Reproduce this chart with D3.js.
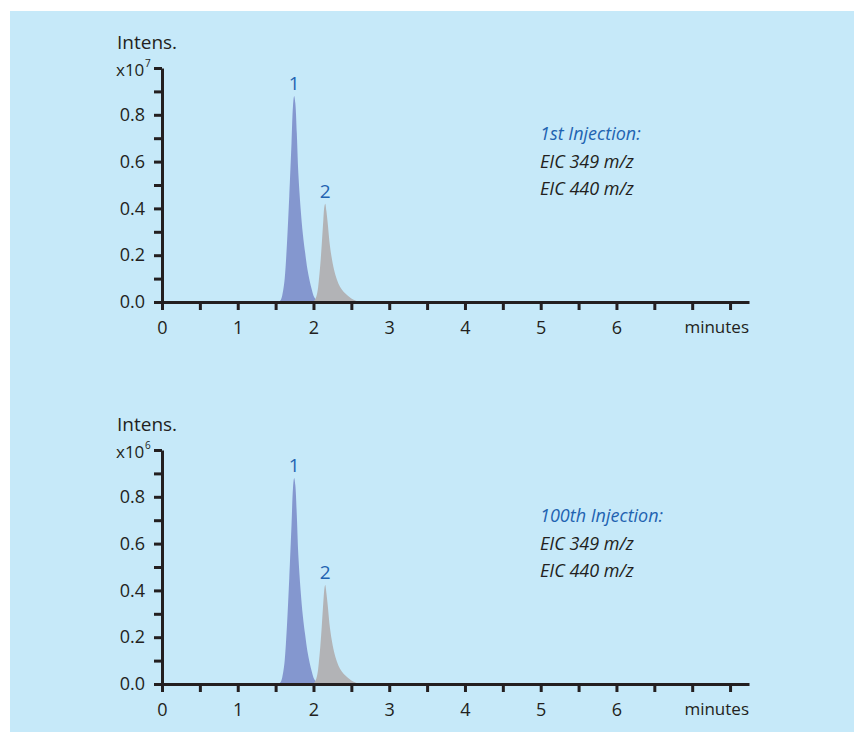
<!DOCTYPE html>
<html>
<head>
<meta charset="utf-8">
<script src="https://cdn.jsdelivr.net/npm/d3@7"></script>
<style>
  body { margin: 0; background: #fff; }
  svg text { font-family: "Open Sans", "Noto Sans", sans-serif; fill: #231f20; }
</style>
</head>
<body>
<div id="chart"></div>
<script>
// retention time (minutes) and intensity for the two peaks
const peak1Time = [1.54, 1.57, 1.60, 1.62, 1.65, 1.68, 1.71, 1.73, 1.745, 1.76, 1.78, 1.80, 1.83, 1.86, 1.89, 1.92, 1.95, 1.98, 2.01, 2.05, 2.08];
const peak1First = [0, 0.01, 0.05, 0.10, 0.25, 0.45, 0.68, 0.84, 0.88, 0.85, 0.72, 0.55, 0.40, 0.29, 0.21, 0.14, 0.09, 0.05, 0.02, 0.005, 0];
const peak1Hundredth = [0, 0.01, 0.05, 0.10, 0.25, 0.45, 0.68, 0.84, 0.88, 0.85, 0.72, 0.55, 0.40, 0.29, 0.21, 0.14, 0.09, 0.05, 0.02, 0.005, 0];

const peak2Time = [1.99, 2.02, 2.05, 2.07, 2.09, 2.11, 2.13, 2.145, 2.155, 2.17, 2.19, 2.21, 2.24, 2.27, 2.31, 2.35, 2.40, 2.45, 2.50, 2.56, 2.62];
const peak2First = [0, 0.01, 0.04, 0.09, 0.16, 0.25, 0.35, 0.41, 0.42, 0.39, 0.33, 0.26, 0.19, 0.14, 0.095, 0.065, 0.043, 0.028, 0.015, 0.005, 0];
const peak2Hundredth = [0, 0.01, 0.04, 0.09, 0.16, 0.25, 0.35, 0.41, 0.423, 0.39, 0.33, 0.26, 0.19, 0.14, 0.095, 0.065, 0.043, 0.028, 0.015, 0.005, 0];

const xTicks = [0, 0.5, 1, 1.5, 2, 2.5, 3, 3.5, 4, 4.5, 5, 5.5, 6, 6.5, 7, 7.5];
const xLabels = [0, 1, 2, 3, 4, 5, 6];
const yTicks = [0, 0.1, 0.2, 0.3, 0.4, 0.5, 0.6, 0.7, 0.8, 0.9, 1.0];
const yLabels = [0, 0.2, 0.4, 0.6, 0.8];

const panels = [
    { title: "1st Injection:", exponent: "7", p1: peak1First, p2: peak2First },
    { title: "100th Injection:", exponent: "6", p1: peak1Hundredth, p2: peak2Hundredth }
];
const traces = ["EIC 349 m/z", "EIC 440 m/z"];

const width = 854, height = 732;
const svg = d3.select("#chart").append("svg")
    .attr("width", width)
    .attr("height", height);

svg.append("rect")
    .attr("x", 10).attr("y", 11)
    .attr("width", width - 10).attr("height", height - 11)
    .attr("fill", "#c6e9f9");

const x = d3.scaleLinear().domain([0, 7.75]).range([162, 749]);

function isLabel(list, v) {
    return list.some(l => Math.abs(l - v) < 1e-6);
}

panels.forEach((p, i) => {
    let g = svg.append("g").attr("transform", "translate(0," + (i * 382) + ")");
    let y = d3.scaleLinear().domain([0, 1]).range([302, 68]);

    let area = d3.area()
        .x(d => x(d[0]))
        .y0(y(0))
        .y1(d => y(d[1]))
        .curve(d3.curveCatmullRom);

    g.append("path")
        .datum(peak1Time.map((t, k) => [t, p.p1[k]]))
        .attr("d", area)
        .attr("fill", "#8497cf");

    g.append("path")
        .datum(peak2Time.map((t, k) => [t, p.p2[k]]))
        .attr("d", area)
        .attr("fill", "#b2b3b6");

    // axes
    let xAxis = d3.axisBottom(x)
        .tickValues(xTicks)
        .tickSize(8)
        .tickSizeOuter(0)
        .tickPadding(11)
        .tickFormat(d => isLabel(xLabels, d) ? d : "");
    let yAxis = d3.axisLeft(y)
        .tickValues(yTicks)
        .tickSize(8)
        .tickSizeOuter(0)
        .tickPadding(9)
        .tickFormat(d => isLabel(yLabels, d) ? d3.format(".1f")(d) : "");

    let gx = g.append("g").attr("transform", "translate(0," + y(0) + ")").call(xAxis);
    let gy = g.append("g").attr("transform", "translate(" + x(0) + ",0)").call(yAxis);

    [gx, gy].forEach(a => {
        a.selectAll("path, line").attr("stroke", "#231f20").attr("stroke-width", 3);
        a.selectAll("text").attr("font-size", 18).style("fill", "#231f20");
    });

    g.append("text")
        .attr("x", 749).attr("y", 333)
        .attr("text-anchor", "end")
        .attr("font-size", 17)
        .text("minutes");

    g.append("text")
        .attr("x", 117).attr("y", 49)
        .attr("font-size", 19)
        .text("Intens.");

    // unit label with separate superscript
    g.append("text")
        .attr("x", 116).attr("y", 76)
        .attr("font-size", 17)
        .text("x10");
    g.append("text")
        .attr("x", 145).attr("y", 67)
        .attr("font-size", 10)
        .text(p.exponent);

    // peak numbers
    let maxIdx1 = d3.maxIndex(p.p1);
    let maxIdx2 = d3.maxIndex(p.p2);
    g.append("text")
        .attr("x", x(peak1Time[maxIdx1])).attr("y", y(p.p1[maxIdx1]) - 6)
        .attr("text-anchor", "middle")
        .attr("font-size", 19)
        .style("fill", "#1f63b1")
        .text("1");
    g.append("text")
        .attr("x", x(peak2Time[maxIdx2])).attr("y", y(p.p2[maxIdx2]) - 6)
        .attr("text-anchor", "middle")
        .attr("font-size", 19)
        .style("fill", "#1f63b1")
        .text("2");

    // annotation
    g.append("text")
        .attr("x", 540).attr("y", 140)
        .attr("font-size", 18)
        .attr("font-style", "italic")
        .style("fill", "#1f63b1")
        .text(p.title);
    traces.forEach((t, k) => {
        g.append("text")
            .attr("x", 540).attr("y", 168 + k * 27)
            .attr("font-size", 18)
            .attr("font-style", "italic")
            .text(t);
    });
});
</script>
</body>
</html>
